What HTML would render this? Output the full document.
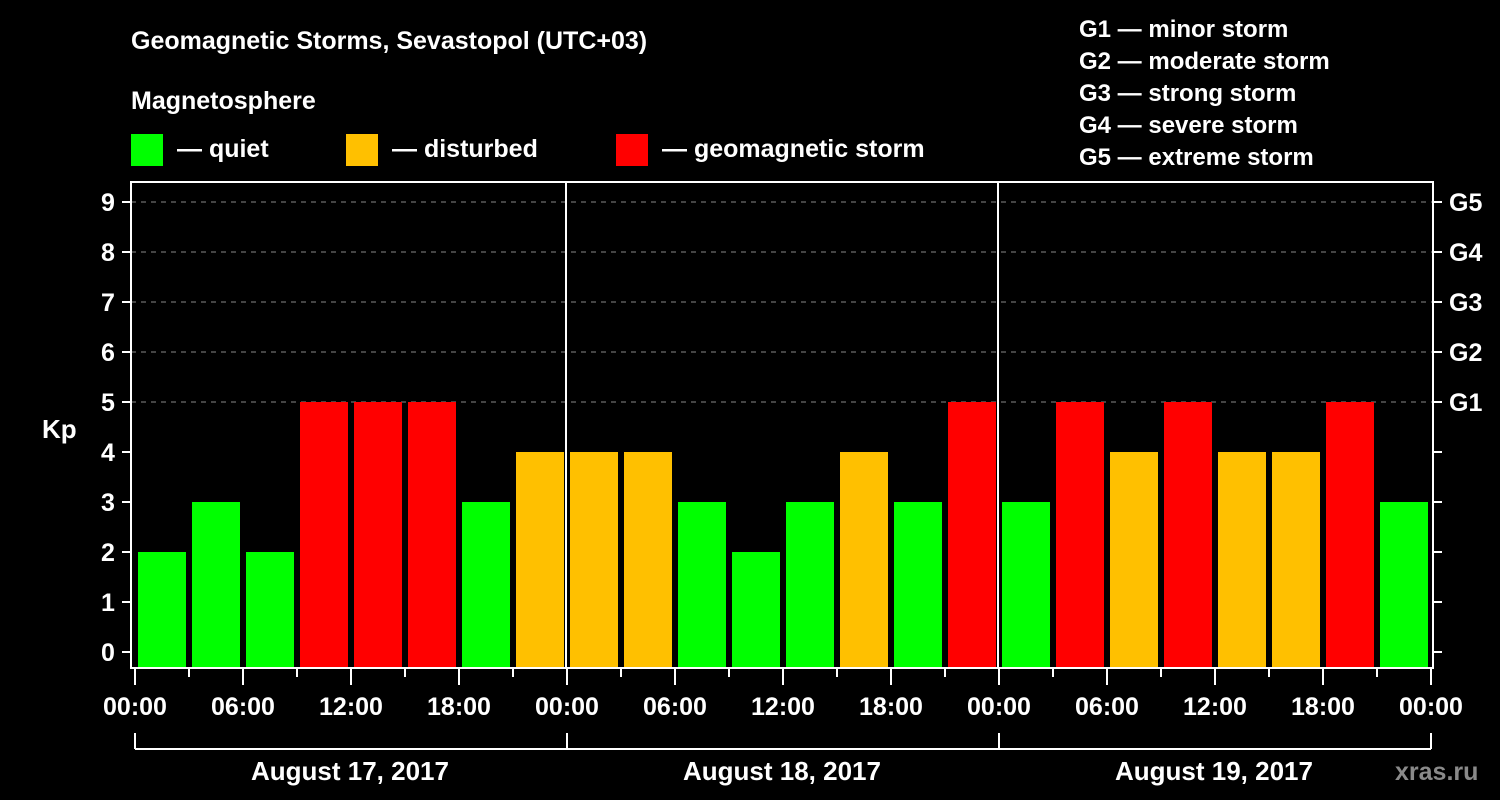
<!DOCTYPE html>
<html><head><meta charset="utf-8"><style>
html,body{margin:0;padding:0;background:#000;width:1500px;height:800px;overflow:hidden}
svg text{font-family:"Liberation Sans",sans-serif;font-weight:bold;fill:#fff}
</style></head><body>
<svg id="c" width="1500" height="800" viewBox="0 0 1500 800">
<rect width="1500" height="800" fill="#000"/>
<text x="131" y="49" font-size="25">Geomagnetic Storms, Sevastopol (UTC+03)</text>
<text x="131" y="109" font-size="25">Magnetosphere</text>
<g><rect x="131" y="134" width="32" height="32" fill="#00ff00"/><text x="177" y="157" font-size="25">— quiet</text></g>
<g><rect x="346" y="134" width="32" height="32" fill="#ffc000"/><text x="392" y="157" font-size="25">— disturbed</text></g>
<g><rect x="616" y="134" width="32" height="32" fill="#ff0000"/><text x="662" y="157" font-size="25">— geomagnetic storm</text></g>
<g font-size="24">
<text x="1079" y="37">G1 — minor storm</text>
<text x="1079" y="69">G2 — moderate storm</text>
<text x="1079" y="101">G3 — strong storm</text>
<text x="1079" y="133">G4 — severe storm</text>
<text x="1079" y="165">G5 — extreme storm</text>
</g>
<text x="42" y="438" font-size="26">Kp</text>
<text x="1395" y="780" font-size="25" fill="#888" style="fill:#8a8a8a">xras.ru</text>
<g id="plot"></g>
</svg>
<script>
const kpValues=[2,3,2,5,5,5,3,4, 4,4,3,2,3,4,3,5, 3,5,4,5,4,4,5,3];
const yTicks=[0,1,2,3,4,5,6,7,8,9];
const gLabels=["G1","G2","G3","G4","G5"];
const xTickLabels=["00:00","06:00","12:00","18:00","00:00","06:00","12:00","18:00","00:00","06:00","12:00","18:00","00:00"];
const dayLabels=["August 17, 2017","August 18, 2017","August 19, 2017"];
const L=134,R=1430,T=182,B=668;
const slot=(R-L)/kpValues.length;
const x=i=>L+i*slot;
const y=v=>652-50*v;
const NS="http://www.w3.org/2000/svg";
const g=document.getElementById('plot');
function el(tag,attrs){const e=document.createElementNS(NS,tag);for(const k in attrs)e.setAttribute(k,attrs[k]);g.appendChild(e);return e;}
function color(v){return v>=5?"#ff0000":v>=4?"#ffc000":"#00ff00";}
// grid
yTicks.forEach(v=>{if(v>=5){const l=el('line',{x1:131,x2:1433,y1:y(v),y2:y(v),stroke:'#888','stroke-dasharray':'5,5','stroke-width':1});

}});
// bars
kpValues.forEach((v,i)=>{const r=el('rect',{x:x(i)+4,y:y(v),width:slot-6,height:B-y(v),fill:color(v)});

});
// day dividers
[1,2].forEach(d=>{const l=el('line',{x1:x(d*8),x2:x(d*8),y1:T,y2:B,stroke:'#fff','stroke-width':2});

});
// frame
const f=el('rect',{x:131,y:T,width:1302,height:B-T,fill:'none',stroke:'#fff','stroke-width':2});


// y ticks
yTicks.forEach(v=>{
el('line',{x1:122,x2:131,y1:y(v),y2:y(v),stroke:'#fff','stroke-width':2});
el('line',{x1:1433,x2:1442,y1:y(v),y2:y(v),stroke:'#fff','stroke-width':2});
const t=el('text',{x:108,y:y(v)+9,'font-size':25,'text-anchor':'middle'});t.textContent=v;

});
gLabels.forEach((s,i)=>{const t=el('text',{x:1449,y:y(5+i)+9,'font-size':25});t.textContent=s;

});
// x ticks
for(let i=0;i<=kpValues.length;i++){const major=i%2==0;
el('line',{x1:x(i)+1,x2:x(i)+1,y1:B,y2:B+(major?17:9),stroke:'#fff','stroke-width':2});}
xTickLabels.forEach((s,i)=>{const t=el('text',{x:x(i*2)+1,y:715,'font-size':25,'text-anchor':'middle'});t.textContent=s;

});
// date brackets
el('line',{x1:x(0)+1,x2:x(24)+1,y1:749,y2:749,stroke:'#fff','stroke-width':2});
for(let d=0;d<=3;d++)el('line',{x1:x(d*8)+1,x2:x(d*8)+1,y1:733,y2:749,stroke:'#fff','stroke-width':2});
dayLabels.forEach((s,d)=>{const t=el('text',{x:x(d*8+4),y:780,'font-size':26,'text-anchor':'middle'});t.textContent=s;

});
</script>
</body></html>
